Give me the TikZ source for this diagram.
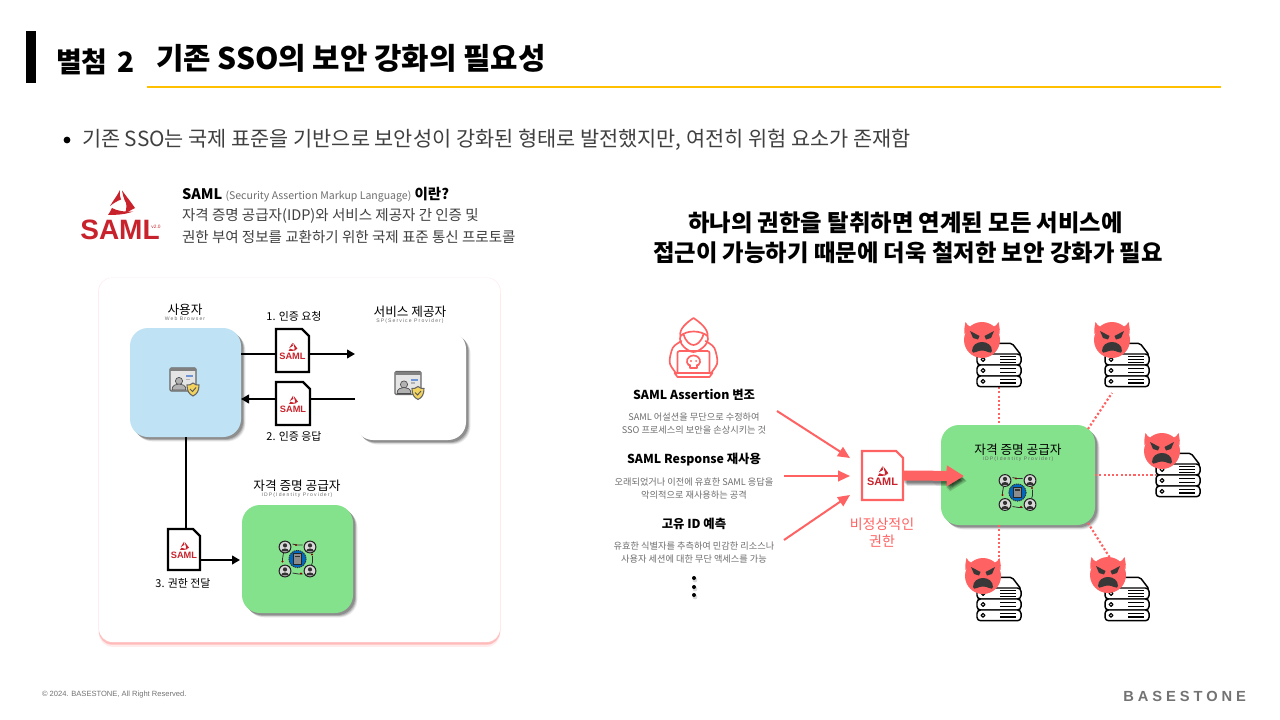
\documentclass[tikz,border=0pt]{standalone}
\usepackage{fontspec}
\setmainfont{Noto Sans CJK KR}
\newfontfamily\latinui{Liberation Sans}
\newfontfamily\brandfont[LetterSpace=27]{Liberation Sans}
\newfontfamily\tinytrack[LetterSpace=22]{Liberation Sans}
\usetikzlibrary{arrows.meta,shadows,calc}
\definecolor{alert}{HTML}{FF6262}
\definecolor{idpgreen}{HTML}{85E28C}
\definecolor{userblue}{HTML}{BFE3F4}
\definecolor{samlred}{HTML}{C8232C}
\definecolor{bodygray}{HTML}{404040}
\definecolor{softgray}{HTML}{6E6E6E}
\definecolor{shieldgold}{HTML}{F2D35E}
\newcommand\sz[1]{\fontsize{#1}{#1}\selectfont}
\tikzset{
  softshadow/.style={
    general shadow={fill=black,opacity=.07,shadow xshift=3.4pt,shadow yshift=-3.4pt},
    general shadow={fill=black,opacity=.12,shadow xshift=2.8pt,shadow yshift=-2.8pt},
    general shadow={fill=black,opacity=.16,shadow xshift=2.2pt,shadow yshift=-2.2pt},
    general shadow={fill=black,opacity=.18,shadow xshift=1.6pt,shadow yshift=-1.6pt}},
  panel/.style 2 args={draw=none,inner sep=0pt,outer sep=0pt,rounded corners=13.5pt,
    minimum width=#1*0.75pt,minimum height=#2*0.75pt,softshadow},
  slot/.style 2 args={inner sep=0pt,outer sep=0pt,minimum width=#1*0.75pt,minimum height=#2*0.75pt},
  txt/.style={inner sep=0pt,outer sep=0pt,align=center},
  blackflow/.style={line width=1.5pt,draw=black,-{Triangle[length=6pt,width=6.5pt]}},
  blackrun/.style={line width=1.5pt,draw=black},
  redflow/.style={line width=1.5pt,draw=alert,-{Triangle[length=9pt,width=8pt]}},
  dotlink/.style={draw=alert,line width=1.6pt,dash pattern=on 1.6pt off 1.6pt},
  % the SAML wordmark with its three-blade emblem
  samlmark/.pic={
    \fill[samlred] (0,-25) .. controls (-3,-19) and (-7,-14) .. (-10,-9)
      .. controls (-6,-12) and (-3,-14) .. (1,-15.5) .. controls (-.5,-18.5) and (-.5,-22) .. cycle;
    \fill[samlred] (2,-24.5) .. controls (6,-19) and (11,-13) .. (15,-7)
      .. controls (11,-5) and (8,-3) .. (5,-1.5) .. controls (7,-7) and (7,-12) .. (4.5,-15)
      .. controls (3.5,-18) and (2.5,-21) .. cycle;
    \fill[samlred] (-12,0) .. controls (-5,-.2) and (4,0) .. (13,-3.5)
      .. controls (5,-3) and (-3,-4) .. (-8,-7) .. controls (-9,-5) and (-10.5,-2) .. cycle;
    \node[txt,transform shape,text=samlred,font=\latinui\bfseries\sz{21}] at (0,15) {SAML};
  },
  % stacked rack server: a sloped lid over three drives
  rack/.pic={
    \begin{scope}[line width=1.1pt,draw=black,fill=white,line join=round]
      \filldraw[rounded corners=1.5pt] (-22,-10) -- (-13,-21.7) -- (13,-21.7) -- (22,-10) -- cycle;
      \filldraw[rounded corners=2.6pt] (-22,-11) rectangle (22,0);
      \filldraw[rounded corners=2.6pt] (-22,0) rectangle (22,11);
      \filldraw[rounded corners=2.6pt] (-22,11) rectangle (22,21.7);
      \foreach \r in {-5.5,5.5,16.3}{\draw[line width=.9pt] (-16,\r) circle (1.9);}
      \foreach \r in {-8.5,-5.5,-2.5,3.8,7.2,14.6,18}{\draw[line width=.9pt] (1,\r) -- (16.5,\r);}
    \end{scope}
  },
  % angry horned face
  devil/.pic={
    \fill[alert] (-16.5,-18) .. controls (-15,-15.5) and (-14,-14) .. (-11,-13) -- (-17.5,-6) .. controls (-18,-10) .. cycle;
    \fill[alert] (16.5,-18) .. controls (15,-15.5) and (14,-14) .. (11,-13) -- (17.5,-6) .. controls (18,-10) .. cycle;
    \fill[alert] (0,0) circle (18);
    \fill[black!78] (-12,-9) -- (-2.5,-4) -- (-4,-.5) -- (-9,-2) -- cycle;
    \fill[black!78] (12,-9) -- (2.5,-4) -- (4,-.5) -- (9,-2) -- cycle;
    \fill[black!78] (-10,11) .. controls (-10,5) and (-5,2) .. (0,2) .. controls (5,2) and (10,5) .. (10,11)
      .. controls (10,13) and (8,13) .. (6,12) .. controls (2,10) and (-2,10) .. (-6,12) .. controls (-8,13) and (-10,13) .. cycle;
  },
  % browser window with a user and a shield
  usercard/.pic={
    \filldraw[draw=black!60,fill=black!10,line width=.8pt,rounded corners=.8pt] (-15,-14) rectangle (11,9);
    \fill[black!50] (-15,-14) rectangle (11,-11);
    \fill[white!90!black] (-14,-10.5) rectangle (10,8);
    \filldraw[draw=black!70,fill=black!30,line width=.5pt] (-6,-1) circle (3.6);
    \filldraw[draw=black!70,fill=black!30,line width=.5pt] (-13,8) .. controls (-13,3) and (-9,2) .. (-6,2) .. controls (-3,2) and (1,3) .. (1,8) -- cycle;
    \fill[cyan!45!blue!60!white] (1,-7) rectangle (8,-5);
    \fill[black!30] (1,-3.5) rectangle (5,-2);
    \filldraw[draw=black!60,fill=shieldgold,line width=.8pt] (8,1) .. controls (10,3) and (12,3) .. (14,3)
      .. controls (14,9) and (12,12) .. (8,14) .. controls (4,12) and (2,9) .. (2,3) .. controls (4,3) and (6,3) .. cycle;
    \draw[black!65,line width=.7pt] (5,7) -- (7.5,9.5) -- (11,5.5);
  },
  % four users around a central directory
  idpmesh/.pic={
    \foreach \x/\y in {-12.5/-12,12.5/-12,-12.5/12,12.5/12}{
      \filldraw[draw=black!85,fill=black!15,line width=.8pt] (\x,\y) circle (5.9);
      \fill[black!80] (\x,\y-1.6) circle (2.1);
      \fill[black!80] (\x-4,\y+4.4) .. controls (\x-3.4,\y+.5) and (\x+3.4,\y+.5) .. (\x+4,\y+4.4) -- cycle;
    }
    \draw[black!80,line width=.6pt] (-5,-15) -- (-1,-14) -- (5,-14);
    \fill[red!55!black] (-1.5,-14) circle (1.2);
    \draw[black!80,line width=.6pt] (15,-3) -- (15,3) -- (14,6);
    \fill[red!55!black] (14.5,-4.5) circle (1.2);
    \draw[black!80,line width=.6pt] (-5,14) -- (1,15) -- (5,15);
    \fill[red!55!black] (3.5,14.5) circle (1.2);
    \draw[black!80,line width=.6pt] (-14,-6) -- (-15,0) -- (-15,2);
    \fill[red!55!black] (-15,2.5) circle (1.2);
    \filldraw[draw=black!80,dash pattern=on 1pt off .6pt,fill=blue!45!cyan!75!black,line width=.7pt] (0,0) circle (8.6);
    \filldraw[draw=black!85,fill=black!45,line width=.7pt] (-3.8,-5.2) rectangle (3.8,5.2);
    \fill[black!80] (-2.4,-3.4) rectangle (2.4,-1.8);
  },
  % hooded figure behind a laptop, outline only
  hoodedfigure/.pic={
    \begin{scope}[draw=alert,line width=1.25pt,line join=round,line cap=round]
      \draw (-13,-11) .. controls (-15,-18) and (-6,-25) .. (0,-29) .. controls (6,-25) and (15,-18) .. (14,-11);
      \draw (-13,-11) .. controls (-16,-3) and (-5,5) .. (0,5) .. controls (5,5) and (17,-3) .. (14,-11);
      \draw (-13,-11) .. controls (-7,-17) and (7,-17) .. (14,-11);
      \draw (-10,-13) .. controls (-8,-5) and (-3,-2) .. (0,-2) .. controls (3,-2) and (8,-5) .. (10,-13);
      \draw (-12,-6) .. controls (-17,-3) and (-21,-1) .. (-22,4) .. controls (-24,11) and (-25,16) .. (-22,20) -- (-17,27);
      \draw (12,-6) .. controls (17,-3) and (21,-1) .. (22,4) .. controls (24,11) and (25,16) .. (22,20) -- (17,27);
      \draw[rounded corners=1.5pt] (-16,26) -- (-16,4) -- (16,4) -- (16,26);
      \draw (-19,26) -- (19,26) -- (16,30) -- (-16,30) -- cycle;
      \draw (-5,18) .. controls (-8,15) and (-7,9) .. (0,8.5) .. controls (7,9) and (8,15) .. (5,18) -- (3.5,18) -- (3.5,21) -- (-3.5,21) -- (-3.5,18) -- cycle;
      \fill[alert] (-2.6,14) circle (1.1) (2.6,14) circle (1.1);
    \end{scope}
  }
}
% a SAML document with a folded corner: name, centre x, centre y, width, height, stroke, logo scale
\newcommand\samldoc[7]{
  \node[slot={#4}{#5}] (#1) at (#2,#3) {};
  \filldraw[draw=#6,fill=white,line width=1.6pt,line join=miter]
    (#1.north west) -- ($(#1.north east)+(-7,0)$) -- ($(#1.north east)+(0,7)$)
    -- (#1.south east) -- (#1.south west) -- cycle;
  \pic[scale=#7] at ($(#1.center)+(0,.5)$) {samlmark};
}
% a server with its angry face: suffix, server x, server y, face x, face y
\newcommand\infected[5]{
  \node[slot={44}{44}] (srv#1) at (#2,#3) {};
  \pic at (srv#1) {rack};
  \node[slot={36}{36}] (face#1) at (#4,#5) {};
  \pic at (face#1) {devil};
}
\begin{document}
\begin{tikzpicture}[x=0.75pt,y=-0.75pt]
\useasboundingbox (0,0) rectangle (1280,720);
\fill[white] (0,0) rectangle (1280,720);

% heading band
\fill[black] (26,31) rectangle (36,83);
\draw[color={rgb,255:red,255;green,192;blue,0},line width=1.5pt] (147,87) -- (1221,87);
\node[txt,anchor=west,font=\bfseries\sz{21}] (tag) at (56,61.5) {별첨\hspace{3pt} 2};
\node[txt,anchor=west,font=\bfseries\sz{22.35}] (headline) at (156,58) {기존 SSO의 보안 강화의 필요성};
\fill[black] (67,140) circle (3.4);
\node[txt,anchor=west,text=bodygray,font=\sz{15.6}] (lead) at (82,139.5) {기존 SSO는 국제 표준을 기반으로 보안성이 강화된 형태로 발전했지만, 여전히 위험 요소가 존재함};

% SAML definition
\pic at (120,215) {samlmark};
\node[txt,text=samlred,font=\latinui\sz{3.6}] (ver) at (156,226.5) {v2.0};
\node[txt,anchor=west,font=\sz{10.9}] (defa) at (182,194.5) {\textbf{SAML} {\sz{7.9}\color{softgray}(Security Assertion Markup Language)} \textbf{이란?}};
\node[txt,anchor=west,text=bodygray,font=\sz{10.9}] (defb) at (182,216) {자격 증명 공급자(IDP)와 서비스 제공자 간 인증 및};
\node[txt,anchor=west,text=bodygray,font=\sz{10.9}] (defc) at (182,237) {권한 부여 정보를 교환하기 위한 국제 표준 통신 프로토콜};

% flow card
\node[draw=none,fill=white,inner sep=0pt,rounded corners=10pt,minimum width=300.75pt,minimum height=273pt,
  general shadow={fill=red!30,opacity=.25,shadow xshift=0pt,shadow yshift=-3.6pt},
  general shadow={fill=red!35,opacity=.7,shadow xshift=0pt,shadow yshift=-2pt},
  general shadow={fill=red!20,opacity=.35,shadow scale=1.004,shadow xshift=0pt,shadow yshift=-.3pt}] (card) at (299.5,460) {};

\node[panel={111}{109},fill=userblue] (user) at (185.5,382.5) {};
\node[panel={111}{109},fill=white] (sp) at (410.5,385.5) {};
\node[panel={111}{108},fill=idpgreen] (idp) at (297.5,559) {};
\pic at (185,382) {usercard};
\pic at (410,385.5) {usercard};
\pic at (297.5,559) {idpmesh};

\node[txt,font=\sz{9.5}] (userttl) at (185,309.5) {사용자};
\node[txt,text=softgray,font=\tinytrack\sz{3.8}] (usersub) at (185,318.5) {Web Browser};
\node[txt,font=\sz{9.5}] (spttl) at (410,312) {서비스 제공자};
\node[txt,text=softgray,font=\tinytrack\sz{3.8}] (spsub) at (410,321.5) {SP(Service Provider)};
\node[txt,font=\sz{9.5}] (idpttl) at (297,485.5) {자격 증명 공급자};
\node[txt,text=softgray,font=\tinytrack\sz{3.8}] (idpsub) at (297,495) {IDP(Identity Provider)};
\node[txt,font=\sz{8.2}] (s1) at (294,316.5) {1. 인증 요청};
\node[txt,font=\sz{8.2}] (s2) at (294,436) {2. 인증 응답};
\node[txt,font=\sz{8.2}] (s3) at (183,583) {3. 권한 전달};

\samldoc{doca}{292.5}{350.5}{33}{43}{black}{.33}
\samldoc{docb}{293}{403.5}{34}{43}{black}{.33}
\samldoc{docc}{184}{549.5}{32}{41}{black}{.33}

\coordinate (lanea) at (0,354);
\coordinate (laneb) at (0,399);
\coordinate (lanec) at (186,0);
\coordinate (laned) at (0,560);
\draw[blackrun] (user.east |- lanea) -- (doca.west |- lanea);
\draw[blackflow] (doca.east |- lanea) -- (sp.west |- lanea);
\draw[blackrun] (sp.west |- laneb) -- (docb.east |- laneb);
\draw[blackflow] (docb.west |- laneb) -- (user.east |- laneb);
\draw[blackrun] (lanec |- user.south) -- (lanec |- docc.north);
\draw[blackflow] (docc.east |- laned) -- ($(idp.west |- laned)+(-2,0)$);

% right-hand message
\node[txt,font=\bfseries\sz{17.5}] (msga) at (905.5,223) {하나의 권한을 탈취하면 연계된 모든 서비스에};
\node[txt,font=\bfseries\sz{17.5}] (msgb) at (908,252.5) {접근이 가능하기 때문에 더욱 철저한 보안 강화가 필요};

% attack types
\pic at (693.5,347) {hoodedfigure};
\node[txt,font=\bfseries\sz{9.25}] (atka) at (694,395) {SAML Assertion 변조};
\node[txt,text=softgray,font=\sz{6.9}] (atkat) at (694,423.5) {SAML 어설션을 무단으로 수정하여\\[2.4pt]SSO 프로세스의 보안을 손상시키는 것};
\node[txt,font=\bfseries\sz{9.25}] (atkb) at (694,460) {SAML Response 재사용};
\node[txt,text=softgray,font=\sz{6.9}] (atkbt) at (694,488.5) {오래되었거나 이전에 유효한 SAML 응답을\\[2.4pt]악의적으로 재사용하는 공격};
\node[txt,font=\bfseries\sz{9.25}] (atkc) at (694,524) {고유 ID 예측};
\node[txt,text=softgray,font=\sz{6.9}] (atkct) at (694,552.5) {유효한 식별자를 추측하여 민감한 리소스나\\[2.4pt]사용자 세션에 대한 무단 액세스를 가능};
\foreach \n/\y in {dota/578,dotb/587,dotc/595}{
  \fill[black!15] (695,\y+2) circle (2.4);
  \node[circle,fill=black,inner sep=0pt,minimum size=3pt] (\n) at (694,\y) {};
}

% forged credential
\samldoc{forged}{882.5}{475.5}{41}{49}{alert}{.39}
\node[txt,text=alert,font=\sz{10.5}] (forgedcap) at (882,532.5) {비정상적인\\[2.2pt]권한};
\coordinate (froma) at (777,411);
\coordinate (fromb) at (784,476);
\coordinate (fromc) at (784,540);
\coordinate (toa) at (850,458);
\coordinate (tob) at (850,476);
\coordinate (toc) at (850,495);
\draw[redflow] (froma) -- (toa);
\draw[redflow] (fromb) -- (tob);
\draw[redflow] (fromc) -- (toc);

% identity provider and the services behind it
\node[panel={154}{100},fill=idpgreen] (hub) at (1018,475) {};
\node[txt,font=\sz{9.5}] (hubttl) at (1018,449.5) {자격 증명 공급자};
\node[txt,text=black!60,font=\tinytrack\sz{3.8}] (hubsub) at (1018,459) {IDP(Identity Provider)};
\pic at (1017.5,492.5) {idpmesh};

\coordinate (entry) at (964,476);
\begin{scope}[opacity=.16]
  \foreach \o in {1,2,3,4}{
    \draw[black,line width=7.5pt,-{Triangle[length=13pt,width=15pt]}] ($(forged.east)+(\o,\o+1)$) -- ($(entry)+(\o-1,\o+1)$);
  }
\end{scope}
\draw[alert,line width=7.5pt,-{Triangle[length=13pt,width=15pt]}] (forged.east) -- (entry);

\draw[dotlink] (999,387) -- (hub.north -| 999,0);
\draw[dotlink] ($(hub.north east)+(-7,4)$) -- (1112,393);
\draw[dotlink] (hub.east) -- (1156,475);
\draw[dotlink] (999,525) -- (999,560);
\draw[dotlink] ($(hub.south east)+(-7,-2)$) -- (1110,558);

\infected{a}{999}{365}{982}{340}
\infected{b}{1127}{365}{1112}{340}
\infected{c}{1178}{475}{1162}{451}
\infected{d}{999}{599}{983}{576}
\infected{e}{1127}{599}{1108}{575}

% footer
\node[txt,anchor=west,text=black!55,font=\latinui\sz{5.67}] (copy) at (42,695) {© 2024. BASESTONE, All Right Reserved.};
\node[txt,anchor=east,text=black!55,font=\brandfont\bfseries\sz{11}] (brand) at (1246,696) {BASESTONE};
\end{tikzpicture}
\end{document}
